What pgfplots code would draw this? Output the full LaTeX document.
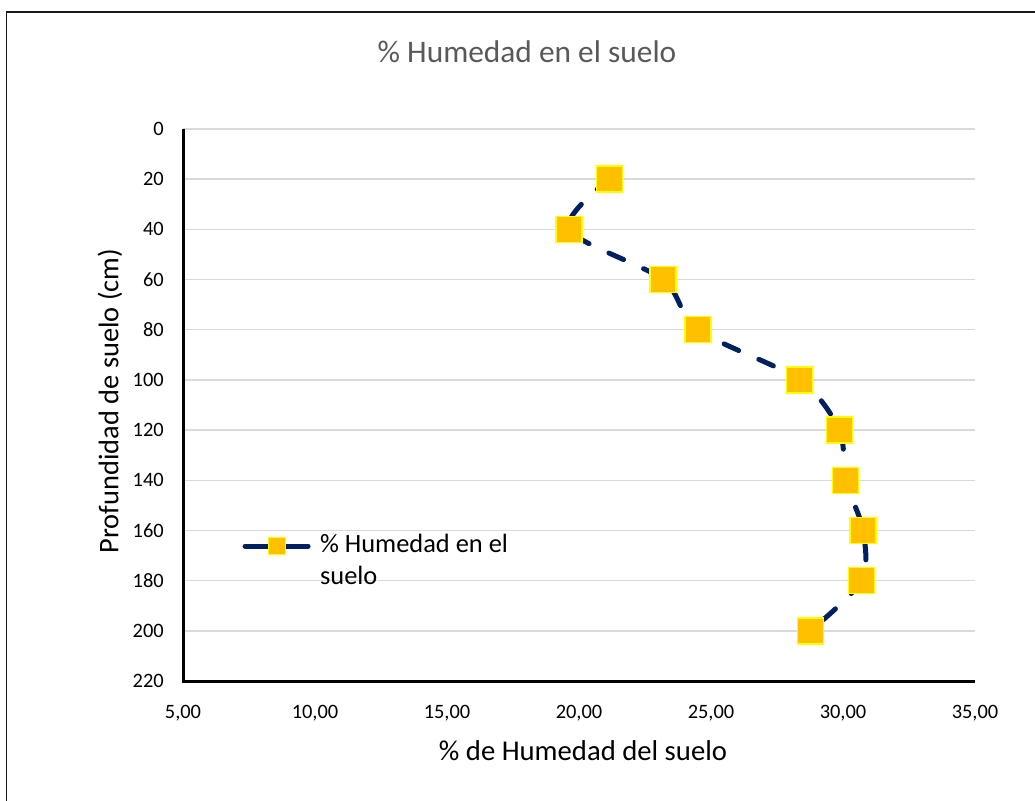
\documentclass[border=0pt]{standalone}
\usepackage{fontspec}
\setmainfont{Carlito}
\usepackage{pgfplots}
\pgfplotsset{compat=1.18}
\definecolor{navyline}{HTML}{002060}
\definecolor{mkfill}{HTML}{FFC000}
\definecolor{mkdraw}{HTML}{FFFF00}
\definecolor{gridc}{HTML}{D9D9D9}
\definecolor{titlec}{HTML}{595959}
\begin{document}
\begin{tikzpicture}[x=1bp,y=1bp]
\useasboundingbox (0,0) rectangle (1035,801);
\draw[line width=1.5bp, black!90] (6.5,0) -- (6.5,789) -- (1035,789);
\node[text=titlec, font=\fontsize{31.5}{36}\selectfont] at (527,749) {\% Humedad en el suelo};
\node[font=\fontsize{28.8}{33}\selectfont] at (583,50) {\% de Humedad del suelo};
\node[font=\fontsize{28.5}{33}\selectfont, rotate=90] at (110,400) {Profundidad de suelo (cm)};
\begin{axis}[
  at={(183bp,120bp)}, anchor=south west,
  scale only axis, width=792bp, height=552bp,
  xmin=5, xmax=35, ymin=0, ymax=220,
  y dir=reverse,
  xtick={5,10,...,35}, ytick={0,20,...,220},
  major tick length=0pt,
  axis line style={draw=none},
  ymajorgrids, grid style={gridc, line width=1.5bp},
  /pgf/number format/assume math mode=true,
  xticklabel={\pgfmathprintnumber[fixed,fixed zerofill,precision=2,use comma]{\tick}},
  yticklabel={\pgfmathprintnumber[fixed,precision=0]{\tick}},
  tick label style={font=\fontsize{20.5}{24}\selectfont, inner sep=0pt},
  xticklabel style={anchor=north, yshift=-24bp},
  yticklabel style={anchor=east, xshift=-19bp},
  legend style={at={(axis description cs:0.075,0.27)}, anchor=north west, draw=none, fill=none,
    font=\fontsize{26.5}{32}\selectfont, cells={anchor=west, align=left}, inner sep=0pt},
  legend cell align=left,
  clip=false,
]
\addplot[navyline, line width=5bp, line cap=round, dash pattern=on 16bp off 22bp,
  smooth, tension=0.5,
  mark=square*, mark size=13bp, mark options={solid, fill=mkfill, draw=mkdraw, line width=1.5bp},
  legend image code/.code={
    \path[draw=none, fill=none] (0bp,14bp) -- (73bp,14bp);
    \draw[navyline, line width=5bp, line cap=round, solid] (0bp,14bp) -- (63bp,14bp);
    \draw[solid, fill=mkfill, draw=mkdraw, line width=1.2bp] (23bp,5.5bp) rectangle (40bp,22.5bp);
  }]
coordinates {
(21.16,20) (19.62,40) (23.18,60) (24.50,80) (28.36,100)
(29.86,120) (30.10,140) (30.76,160) (30.70,180) (28.76,200)
};
\addlegendentry{\% Humedad en el\\suelo}
\draw[black, line width=3bp] (axis description cs:0,1) -- (axis description cs:0,0) -- (axis description cs:1,0);
\end{axis}
\end{tikzpicture}
\end{document}
